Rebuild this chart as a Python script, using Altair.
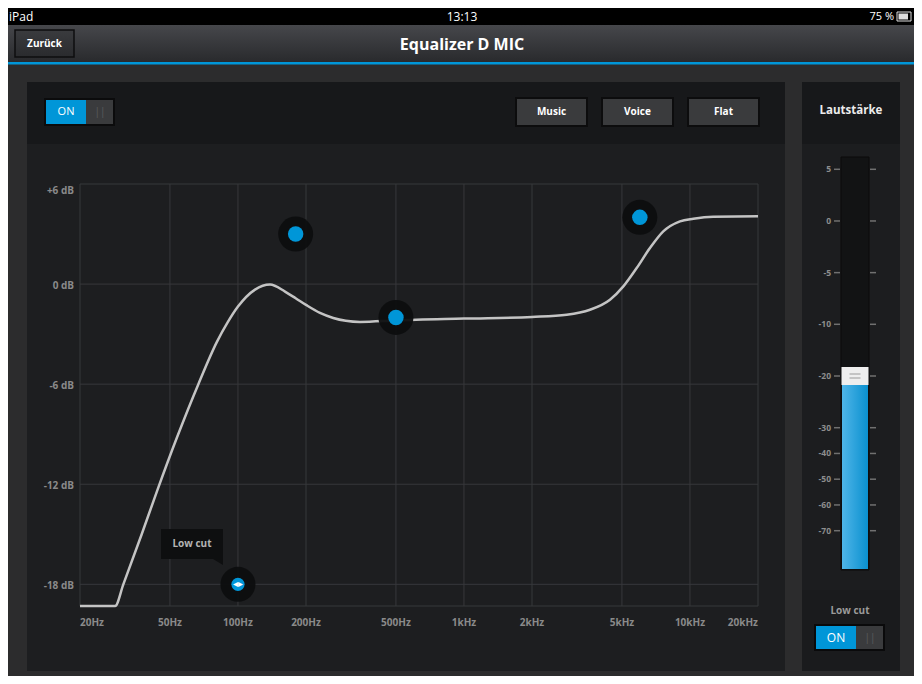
import altair as alt
import pandas as pd

# ---------------- data ----------------
FREQ = [20, 28.6, 31.1, 37.5, 44.0, 53.7, 66.8, 80.8, 90, 100, 119, 138.6, 161.5, 180,
        200, 230.6, 264, 300, 346.7, 500, 1000, 2000, 2848, 3612, 4426, 5072, 5810,
        6652, 7620, 9032, 10348, 12680, 20000]
GAIN = [-19.3, -19.3, -18.0, -15.0, -12.35, -9.2, -6.0, -3.45, -2.3, -1.35, -0.33, -0.03, -0.45, -0.85,
        -1.25, -1.73, -2.03, -2.2, -2.27, -2.18, -2.07, -1.97, -1.84, -1.54, -0.94, -0.14, 0.96,
        2.16, 3.16, 3.76, 3.92, 4.04, 4.06]
CTRL_FREQ = [180, 500, 6000]
CTRL_GAIN = [3.0, -2.0, 4.0]
LOWCUT_FREQ = [100]
LOWCUT_GAIN = [-18]
FREQ_TICKS = [20, 50, 100, 200, 500, 1000, 2000, 5000, 10000, 20000]
FREQ_LABELS = ["20Hz", "50Hz", "100Hz", "200Hz", "500Hz", "1kHz", "2kHz", "5kHz", "10kHz", "20kHz"]
DB_TICKS = [-18, -12, -6, 0, 6]
DB_LABELS = ["-18 dB", "-12 dB", "-6 dB", "0 dB", "+6 dB"]
Y_MIN, Y_MAX = -19.3, 6
VOL_TICKS = [5, 0, -5, -10, -20, -30, -40, -50, -60, -70]
VOL_LEVEL = [-20]
PRESETS = ["Music", "Voice", "Flat"]

# ---------------- layout helpers ----------------
W, H = 678, 422
OX, OY = 80, 184          # page position of the plot origin
FONT = "Open Sans"
BLUE = "#0096d8"
GRID = "#37383b"
AXIS_TXT = "#8a8a8a"


def X(p):
    return p - OX


def Y(p):
    return p - OY


one = pd.DataFrame({"k": [0]})


def rect(x0, y0, x1, y1, fill, stroke=None, sw=0):
    kw = dict(fill=fill)
    if stroke:
        kw.update(stroke=stroke, strokeWidth=sw)
    return alt.Chart(one).mark_rect(**kw).encode(
        x=alt.value(X(x0)), x2=alt.value(X(x1)),
        y=alt.value(Y(y0)), y2=alt.value(Y(y1)))


def label(txt, x, y, size=11, color="#ffffff", weight="bold", align="center", font=FONT):
    return alt.Chart(one).mark_text(
        text=txt, fontSize=size, color=color, fontWeight=weight, align=align,
        baseline="middle", font=font).encode(x=alt.value(X(x)), y=alt.value(Y(y)))


def vgrad(c0, c1):
    return alt.Gradient(gradient="linear", x1=0, x2=0, y1=0, y2=1,
                        stops=[alt.GradientStop(offset=0, color=c0),
                               alt.GradientStop(offset=1, color=c1)])


def hgrad(c0, c1):
    return alt.Gradient(gradient="linear", x1=0, x2=1, y1=0, y2=0,
                        stops=[alt.GradientStop(offset=0, color=c0),
                               alt.GradientStop(offset=1, color=c1)])


# ---------------- UI chrome ----------------
back = [
    rect(8, 8, 914, 25, "#000000"),
    rect(8, 25, 914, 62, vgrad("#46474b", "#292a2d")),
    rect(8, 62, 914, 64.5, BLUE),
    rect(15, 30, 74, 57, vgrad("#3a3b3e", "#2a2b2e"), "#0e0e0f", 1.5),
    label("Zurück", 44.5, 43.5, size=10),
    label("Equalizer D MIC", 462, 45, size=16),
    label("iPad", 9, 16.5, size=12, weight="normal", align="left"),
    label("13:13", 462, 16.5, size=12, weight="normal"),
    label("75 %", 894, 16.5, size=11, weight="normal", align="right"),
    rect(897, 12, 911, 21, "#000000", "#dddddd", 1),
    rect(898.5, 13.5, 908, 19.5, "#dddddd"),
    # main panel
    rect(27, 82, 785, 144, "#17181a"),
    rect(27, 144, 785, 671, "#1d1e20"),
    rect(44, 98, 115, 126, "#0b0b0c"),
    rect(46, 100, 86, 124, BLUE),
    rect(86, 100, 113, 124, "#3a3b3d"),
    label("ON", 66, 112, size=11, weight="normal"),
    label("||", 100, 112, size=10, color="#5a5b5e", weight="normal"),
    # right panel
    rect(802, 82, 900, 144, "#17181a"),
    rect(802, 144, 900, 590, "#1c1d1f"),
    rect(802, 590, 900, 671, "#1a1b1d"),
    label("Lautstärke", 851, 111, size=11.5, color="#ececec", weight="bold"),
    rect(841, 157, 869, 570, "#121314", "#0a0a0b", 1),
    label("Low cut", 850, 611, size=10, color="#9a9a9a"),
    rect(814, 624, 885, 651, "#0a0a0b"),
    rect(816, 626, 856, 649, BLUE),
    rect(856, 626, 883, 649, "#3a3b3d"),
    label("ON", 836, 638, size=12, weight="normal"),
    label("||", 870, 638, size=10, color="#5a5b5e", weight="normal"),
]
for name, x0 in zip(PRESETS, [516, 602, 688]):
    back.append(rect(x0, 98, x0 + 71, 126, "#3a3b3d", "#0c0c0d", 2))
    back.append(label(name, x0 + 35.5, 112, size=10))

# ---------------- EQ graph ----------------
xs = alt.Scale(type="log", domain=[20, 20000], nice=False)
ys = alt.Scale(domain=[Y_MIN, Y_MAX], nice=False, zero=False)


def fx(field="freq"):
    return alt.X(f"{field}:Q", scale=xs, axis=None)


def fy(field="gain"):
    return alt.Y(f"{field}:Q", scale=ys, axis=None)


grid_v = alt.Chart(pd.DataFrame({"freq": FREQ_TICKS})).mark_rule(
    color=GRID, strokeWidth=1).encode(x=fx())
grid_h = alt.Chart(pd.DataFrame({"gain": DB_TICKS + [Y_MIN]})).mark_rule(
    color=GRID, strokeWidth=1).encode(y=fy())

# tick labels, placed through the scales
xl = pd.DataFrame({"freq": FREQ_TICKS, "lab": FREQ_LABELS})
x_text_kw = dict(fontSize=10, fontWeight="bold", color=AXIS_TXT, font=FONT, baseline="middle")
xlab_first = alt.Chart(xl.iloc[:1]).mark_text(align="left", **x_text_kw).encode(
    x=fx(), y=alt.value(Y(623)), text="lab:N")
xlab_mid = alt.Chart(xl.iloc[1:-1]).mark_text(align="center", **x_text_kw).encode(
    x=fx(), y=alt.value(Y(623)), text="lab:N")
xlab_last = alt.Chart(xl.iloc[-1:]).mark_text(align="right", **x_text_kw).encode(
    x=fx(), y=alt.value(Y(623)), text="lab:N")

yl = pd.DataFrame({"gain": DB_TICKS, "lab": DB_LABELS})
ylab_main = alt.Chart(yl.iloc[:-1]).mark_text(align="right", dy=1.5, **x_text_kw).encode(
    y=fy(), x=alt.value(X(74)), text="lab:N")
ylab_top = alt.Chart(yl.iloc[-1:]).mark_text(
    align="right", baseline="top", fontSize=10, fontWeight="bold", color=AXIS_TXT,
    font=FONT, dy=2).encode(y=fy(), x=alt.value(X(74)), text="lab:N")

curve = alt.Chart(pd.DataFrame({"freq": FREQ, "gain": GAIN})).mark_line(
    color="#c4c4c4", strokeWidth=2.5, interpolate="monotone").encode(x=fx(), y=fy())

ctrl_df = pd.DataFrame({"freq": CTRL_FREQ, "gain": CTRL_GAIN})
halo = alt.Chart(ctrl_df).mark_circle(size=1225, color="#0d0e0f", opacity=0.95).encode(
    x=fx(), y=fy())
dots = alt.Chart(ctrl_df).mark_circle(size=240, color=BLUE, opacity=1).encode(
    x=fx(), y=fy())

lc_df = pd.DataFrame({"freq": LOWCUT_FREQ, "gain": LOWCUT_GAIN})
lc_halo = alt.Chart(lc_df).mark_circle(size=1225, color="#0d0e0f", opacity=0.95).encode(
    x=fx(), y=fy())
lc_dot = alt.Chart(lc_df).mark_circle(size=175, color=BLUE, opacity=1).encode(
    x=fx(), y=fy())
lc_arrows = alt.Chart(lc_df).mark_text(text="◂▸", fontSize=10, color="#ffffff",
                                       font="DejaVu Sans", baseline="middle").encode(
    x=fx(), y=fy())

main = alt.layer(grid_v, grid_h, xlab_first, xlab_mid, xlab_last, ylab_main, ylab_top,
                 curve, halo, dots, lc_halo, lc_dot, lc_arrows)

tip = [
    rect(161, 529, 223, 559, "#0e0f10"),
    alt.Chart(one).mark_point(shape="M -1 -0.6 L 1 -0.6 L 1 0.6 Z", size=100, filled=True,
                              color="#0e0f10", opacity=1).encode(
        x=alt.value(X(218)), y=alt.value(Y(562))),
    label("Low cut", 192, 544, size=10, color="#b4b4b4"),
]

# ---------------- volume slider ----------------
vs = alt.Scale(domain=[5, -10, -30, -70],
               range=[Y(169.3), Y(324.3), Y(427.7), Y(530.7)], nice=False, zero=False)
vol_df = pd.DataFrame({"v": VOL_TICKS, "lab": [str(v) for v in VOL_TICKS]})
lvl_df = pd.DataFrame({"v": VOL_LEVEL})


def vy():
    return alt.Y("v:Q", scale=vs, axis=None)


tl = alt.Chart(vol_df).mark_rule(color="#707070", strokeWidth=1.5).encode(
    y=vy(), x=alt.value(X(834)), x2=alt.value(X(840)))
tr = alt.Chart(vol_df).mark_rule(color="#707070", strokeWidth=1.5).encode(
    y=vy(), x=alt.value(X(870)), x2=alt.value(X(876)))
tlab = alt.Chart(vol_df).mark_text(align="right", baseline="middle", fontSize=8.5,
                                   fontWeight="bold", color="#8d8d8d", font=FONT).encode(
    y=vy(), x=alt.value(X(831)), text="lab:N")
fill = alt.Chart(lvl_df).mark_rect(fill=hgrad("#4fb5e8", "#0a90cf"), yOffset=9).encode(
    y=vy(), y2=alt.value(Y(569)), x=alt.value(X(842)), x2=alt.value(X(868)))
knob = alt.Chart(lvl_df).mark_tick(orient="horizontal", thickness=18, size=27,
                                   color="#eeeeee", opacity=1).encode(
    y=vy(), x=alt.value(X(855)))
k1 = alt.Chart(lvl_df).mark_tick(orient="horizontal", thickness=1, size=11,
                                 color="#9a9a9a", opacity=1, yOffset=-2).encode(
    y=vy(), x=alt.value(X(855)))
k2 = alt.Chart(lvl_df).mark_tick(orient="horizontal", thickness=1, size=11,
                                 color="#9a9a9a", opacity=1, yOffset=2).encode(
    y=vy(), x=alt.value(X(855)))

slider = alt.layer(tl, tr, tlab, fill, knob, k1, k2)

chart = alt.layer(*back, main, *tip, slider).resolve_scale(y="independent").properties(
    width=W, height=H,
    padding={"left": 72, "top": 176, "right": 156, "bottom": 70},
    autosize=alt.AutoSizeParams(type="none"),
    background="#2c2c2d",
).configure_view(stroke="transparent")

chart.save("out.html", embed_options={"renderer": "svg", "actions": False})
